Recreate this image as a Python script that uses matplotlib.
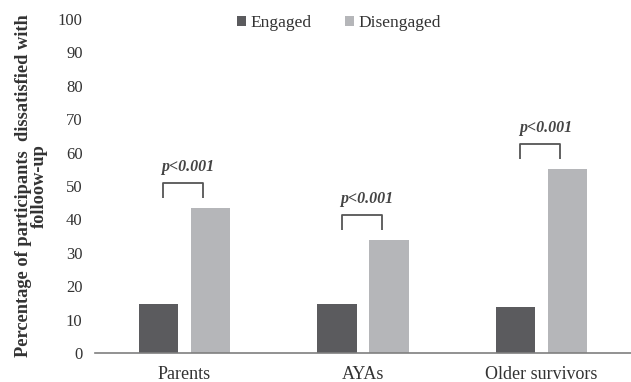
import numpy as np
import matplotlib
matplotlib.use("Agg")
import matplotlib.pyplot as plt

plt.rcParams['font.family'] = ['Liberation Serif', 'DejaVu Serif']

# values
groups = ['Parents', 'AYAs', 'Older survivors']
engaged = [14.7, 14.7, 13.8]
disengaged = [43.4, 33.8, 55.1]
p_labels = ['p<0.001', 'p<0.001', 'p<0.001']

c_eng = '#5b5b5e'
c_dis = '#b5b6b9'

fig = plt.figure(figsize=(6.31, 3.82), dpi=100)
ax = fig.add_axes([0.1506, 0.0759, 0.8494, 0.8744])

x = np.arange(len(groups))
w = 0.22
ax.bar(x - 0.145, engaged, w, color=c_eng, label='Engaged')
ax.bar(x + 0.145, disengaged, w, color=c_dis, label='Disengaged')

# significance brackets over each pair
for i in range(len(groups)):
    top = disengaged[i] + 7.5
    leg = disengaged[i] + 3.0
    ax.plot([x[i] - 0.12, x[i] - 0.12, x[i] + 0.105, x[i] + 0.105],
            [leg, top, top, leg], color='#555555', lw=1.3,
            solid_joinstyle='round', solid_capstyle='butt')
    ax.text(x[i] + 0.02, top + 2.3, p_labels[i], ha='center', va='bottom',
            fontsize=11.5, style='italic', fontweight='bold', color='#444444')

ax.set_xlim(-0.5, 2.5)
ax.set_ylim(0, 100)
ax.set_yticks(range(0, 101, 10))
ax.set_xticks(x)
ax.set_xticklabels(groups, fontsize=13)
ax.tick_params(axis='both', length=0, colors='#333333')
ax.tick_params(axis='y', pad=9, labelsize=12)
ax.tick_params(axis='x', pad=9)
for s in ['top', 'right', 'left']:
    ax.spines[s].set_visible(False)
ax.spines['bottom'].set_color('#7f7f7f')
ax.spines['bottom'].set_linewidth(1.2)

ax.set_ylabel('Percentage of participants  dissatisfied with\nfolloow-up',
              fontsize=13.2, fontweight='bold', color='#333333', labelpad=7,
              linespacing=0.95)

leg = ax.legend(loc='upper center', bbox_to_anchor=(0.455, 1.058), ncol=2,
                frameon=False, fontsize=12.5, handlelength=0.55,
                handleheight=0.55, handletextpad=0.25, columnspacing=1.9)
for t in leg.get_texts():
    t.set_color('#333333')

fig.savefig('out.png', dpi=100)
